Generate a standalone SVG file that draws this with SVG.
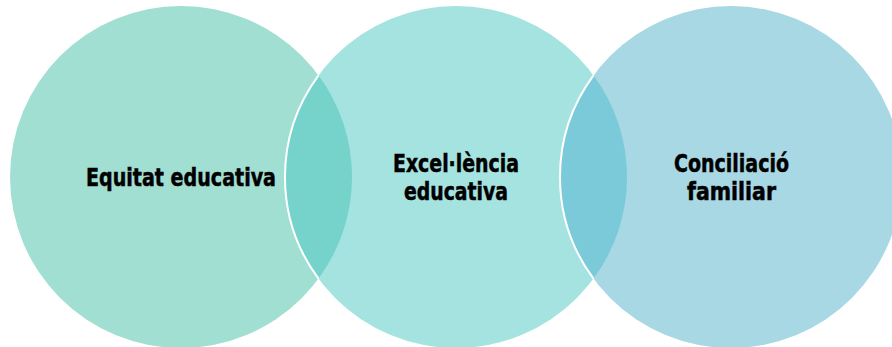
<svg xmlns="http://www.w3.org/2000/svg" width="892" height="347" viewBox="0 0 892 347">
<style>
.lbl{font-family:"DejaVu Sans","Liberation Sans",sans-serif;font-stretch:condensed;font-weight:bold;font-size:25px;fill:#000;stroke:#000;stroke-width:0.5;text-anchor:middle}
.edge{fill:none;stroke:#fff;stroke-width:2}
</style>
<rect width="892" height="347" fill="#fff"/>
<g id="node-equitat">
<circle cx="181" cy="177" r="171" fill="#A1DFD2"/>
</g>
<g id="node-excellencia">
<circle cx="456" cy="177" r="171" fill="#A5E3E1"/>
</g>
<g id="node-conciliacio">
<circle cx="731" cy="177" r="171" fill="#A8D8E4"/>
</g>
<g id="overlaps">
<path d="M318.5 75.3 A171 171 0 0 1 318.5 278.7 A171 171 0 0 1 318.5 75.3 Z" fill="#76D3CB"/>
<path d="M593.5 75.3 A171 171 0 0 1 593.5 278.7 A171 171 0 0 1 593.5 75.3 Z" fill="#7ACAD9"/>
<path class="edge" d="M318.5 75.3 A171 171 0 0 0 318.5 278.7"/>
<path class="edge" d="M593.5 75.3 A171 171 0 0 0 593.5 278.7"/>
</g>
<g id="labels">
<text class="lbl" x="181" y="186" textLength="190" lengthAdjust="spacingAndGlyphs">Equitat educativa</text>
<text class="lbl" x="456" y="172" textLength="126" lengthAdjust="spacingAndGlyphs">Excel·lència</text>
<text class="lbl" x="456" y="200" textLength="104" lengthAdjust="spacingAndGlyphs">educativa</text>
<text class="lbl" x="731.5" y="172" textLength="115" lengthAdjust="spacingAndGlyphs">Conciliació</text>
<text class="lbl" x="731.5" y="200" textLength="89" lengthAdjust="spacingAndGlyphs">familiar</text>
</g>
</svg>
